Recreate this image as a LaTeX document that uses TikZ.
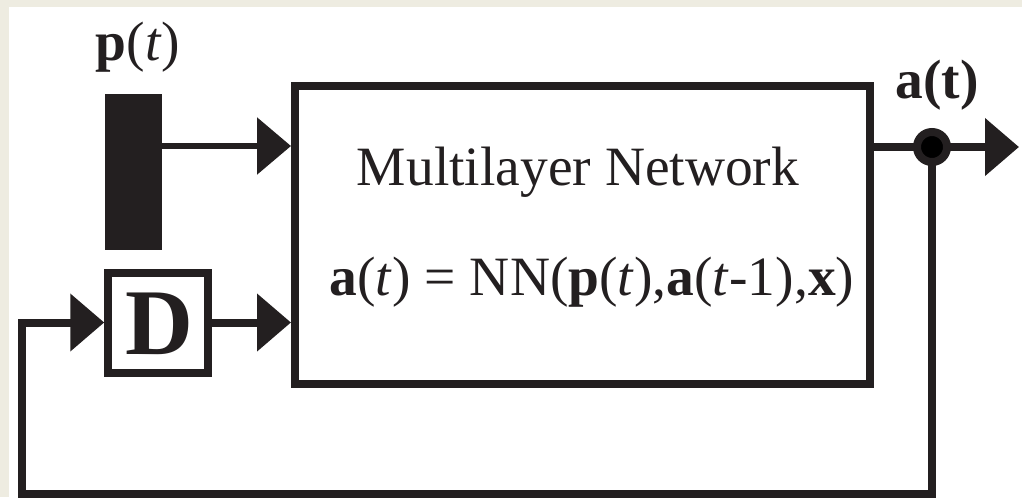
\documentclass[tikz,border=0pt]{standalone}
\usepackage{fontspec}
\setmainfont{Liberation Serif}
\usetikzlibrary{arrows.meta,calc}
\definecolor{ink}{RGB}{35,31,32}
\definecolor{cream}{RGB}{238,236,225}
\begin{document}
\begin{tikzpicture}[x=0.75pt,y=-0.75pt,
  ink/.style={draw=ink,line width=6pt},
  arr/.style={ink,-{Triangle[length=25.5pt,width=42pt]}},
  thinarr/.style={arr,line width=4.5pt},
  lbl/.style={text=ink,font=\fontsize{41.6pt}{50pt}\selectfont,inner sep=0pt,anchor=base}]
\useasboundingbox (0,0) rectangle (1022,497);
\fill[cream] (0,0) rectangle (1022,497);
\fill[white] (9,7) rectangle (1022,497);
% nodes
\node[fill=ink,inner sep=0pt,outer sep=0pt,minimum width=42.75pt,minimum height=117pt] (bar) at (133.5,172) {};
\node[draw=ink,line width=6pt,minimum width=431.25pt,minimum height=223.5pt,inner sep=0pt] (main) at (582.5,235) {};
\node[draw=ink,line width=6pt,minimum width=75pt,minimum height=75pt,inner sep=0pt] (D) at (158.25,322.5) {};
\node[text=ink,font=\fontsize{70.5pt}{80pt}\selectfont\bfseries,inner sep=0pt,anchor=base] (Dl) at (159,354) {D};
\node[lbl] (pl) at (138,60) {\textbf{p}(\textit{t})};
\node[lbl] (al) at (937,98) {\textbf{a(t)}};
\node[lbl] (title) at (578,185) {Multilayer Network};
\node[lbl] (eq) at (592,295) {\textbf{a}(\textit{t}) = NN(\textbf{p}(\textit{t}),\textbf{a}(\textit{t}-1),\textbf{x})};
\coordinate (pin) at (291,146);
\coordinate (junc) at (932,147);
\coordinate (out) at (1019,147);
\coordinate (bl) at (21.5,494);
% connectors
\draw[thinarr] (bar.east |- pin) -- (main.west |- pin);
\draw[arr] (D.east) -- (D.east -| main.west);
\draw[arr] (main.east |- junc) -- (out);
\draw[arr,line join=miter] (junc) |- (bl) |- (D.west);
\fill[ink] (junc) circle (11.25pt);
\end{tikzpicture}
\end{document}
